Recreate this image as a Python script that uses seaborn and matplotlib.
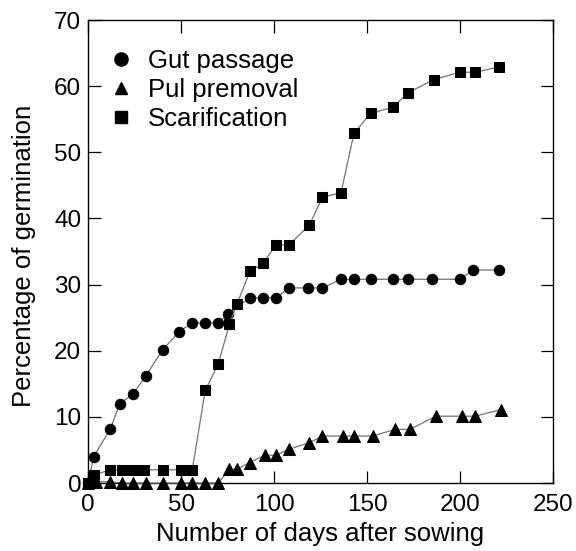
# Germination curves for three seed treatments
import matplotlib
matplotlib.use("Agg")
import matplotlib.pyplot as plt
from matplotlib.lines import Line2D
import seaborn as sns

## Data
gut_days = [0, 3, 12, 17, 24, 31, 40, 49, 56, 63, 70, 75, 87, 94, 101, 108, 118,
            126, 136, 143, 152, 164, 172, 185, 200, 207, 221]
gut_pct = [0, 4, 8.2, 12, 13.4, 16.2, 20.1, 22.9, 24.2, 24.2, 24.2, 25.5, 28, 28,
           28, 29.5, 29.5, 29.5, 30.8, 30.8, 30.8, 30.8, 30.8, 30.8, 30.8, 32.2, 32.2]

pulp_days = [0, 4, 12, 18, 24, 31, 40, 50, 56, 63, 70, 76, 80, 87, 95, 101, 108,
             119, 126, 137, 143, 153, 165, 173, 187, 201, 208, 222]
pulp_pct = [0, 0.2, 0.2, 0, 0, 0, 0, 0, 0, 0, 0, 2.1, 2.1, 3.1, 4.2, 4.2, 5.1,
            6.1, 7.1, 7.1, 7.1, 7.1, 8.1, 8.1, 10.1, 10.1, 10.1, 11.1]

scar_days = [0, 3, 12, 18, 24, 30, 40, 50, 56, 63, 70, 76, 80, 87, 94, 101, 108,
             119, 126, 136, 143, 152, 164, 172, 186, 200, 208, 221]
scar_pct = [0, 1.2, 2, 2, 2, 2, 2, 2, 2, 14, 18, 24, 27, 32, 33.2, 36, 36,
            39, 43.2, 43.9, 52.9, 55.9, 56.8, 59, 61, 62.1, 62.1, 62.9]

# name, x, y, marker, size on plot, size in legend
series = [
    ("Gut passage", gut_days, gut_pct, "o", 7.5, 9.5),
    ("Pul premoval", pulp_days, pulp_pct, "^", 8, 8),
    ("Scarification", scar_days, scar_pct, "s", 7.5, 8.5),
]

## Style
sns.set_theme(style="ticks")
plt.rcParams["font.family"] = ["Liberation Sans", "DejaVu Sans"]
plt.rcParams.update({"text.color": "black", "axes.labelcolor": "black",
                     "xtick.color": "black", "ytick.color": "black",
                     "axes.edgecolor": "black"})

fig = plt.figure(figsize=(5.76, 5.51), dpi=100)
ax = fig.add_axes([0.153, 0.1234, 0.807, 0.8403])

handles = []
for name, days, pct, mk, ms, lms in series:
    sns.lineplot(x=days, y=pct, ax=ax, color="0.45", linewidth=0.9,
                 marker=mk, markersize=ms, markerfacecolor="black",
                 markeredgecolor="black", clip_on=False, zorder=3)
    handles.append(Line2D([], [], linestyle="none", marker=mk, markersize=lms,
                          color="black", label=name))

ax.set_xlim(0, 250)
ax.set_ylim(0, 70)
ax.set_xticks(range(0, 251, 50))
ax.set_yticks(range(0, 71, 10))
ax.tick_params(direction="in", length=9, width=0.9, labelsize=17.5,
               top=True, right=True)
ax.tick_params(axis="x", pad=8)
ax.tick_params(axis="y", pad=5)
for sp in ax.spines.values():
    sp.set_linewidth(1.0)

ax.set_xlabel("Number of days after sowing", fontsize=18.5)
ax.set_ylabel("Percentage of germination", fontsize=18.5)
ax.xaxis.set_label_coords(0.5, -0.085)
ax.yaxis.set_label_coords(-0.112, 0.49)

ax.legend(handles=handles, loc="upper left", frameon=False, fontsize=18.5,
          handletextpad=0.55, labelspacing=0.2, borderaxespad=0.0,
          handlelength=1.0, bbox_to_anchor=(0.02, 0.96))

fig.savefig("out.png", dpi=100)
plt.close(fig)
